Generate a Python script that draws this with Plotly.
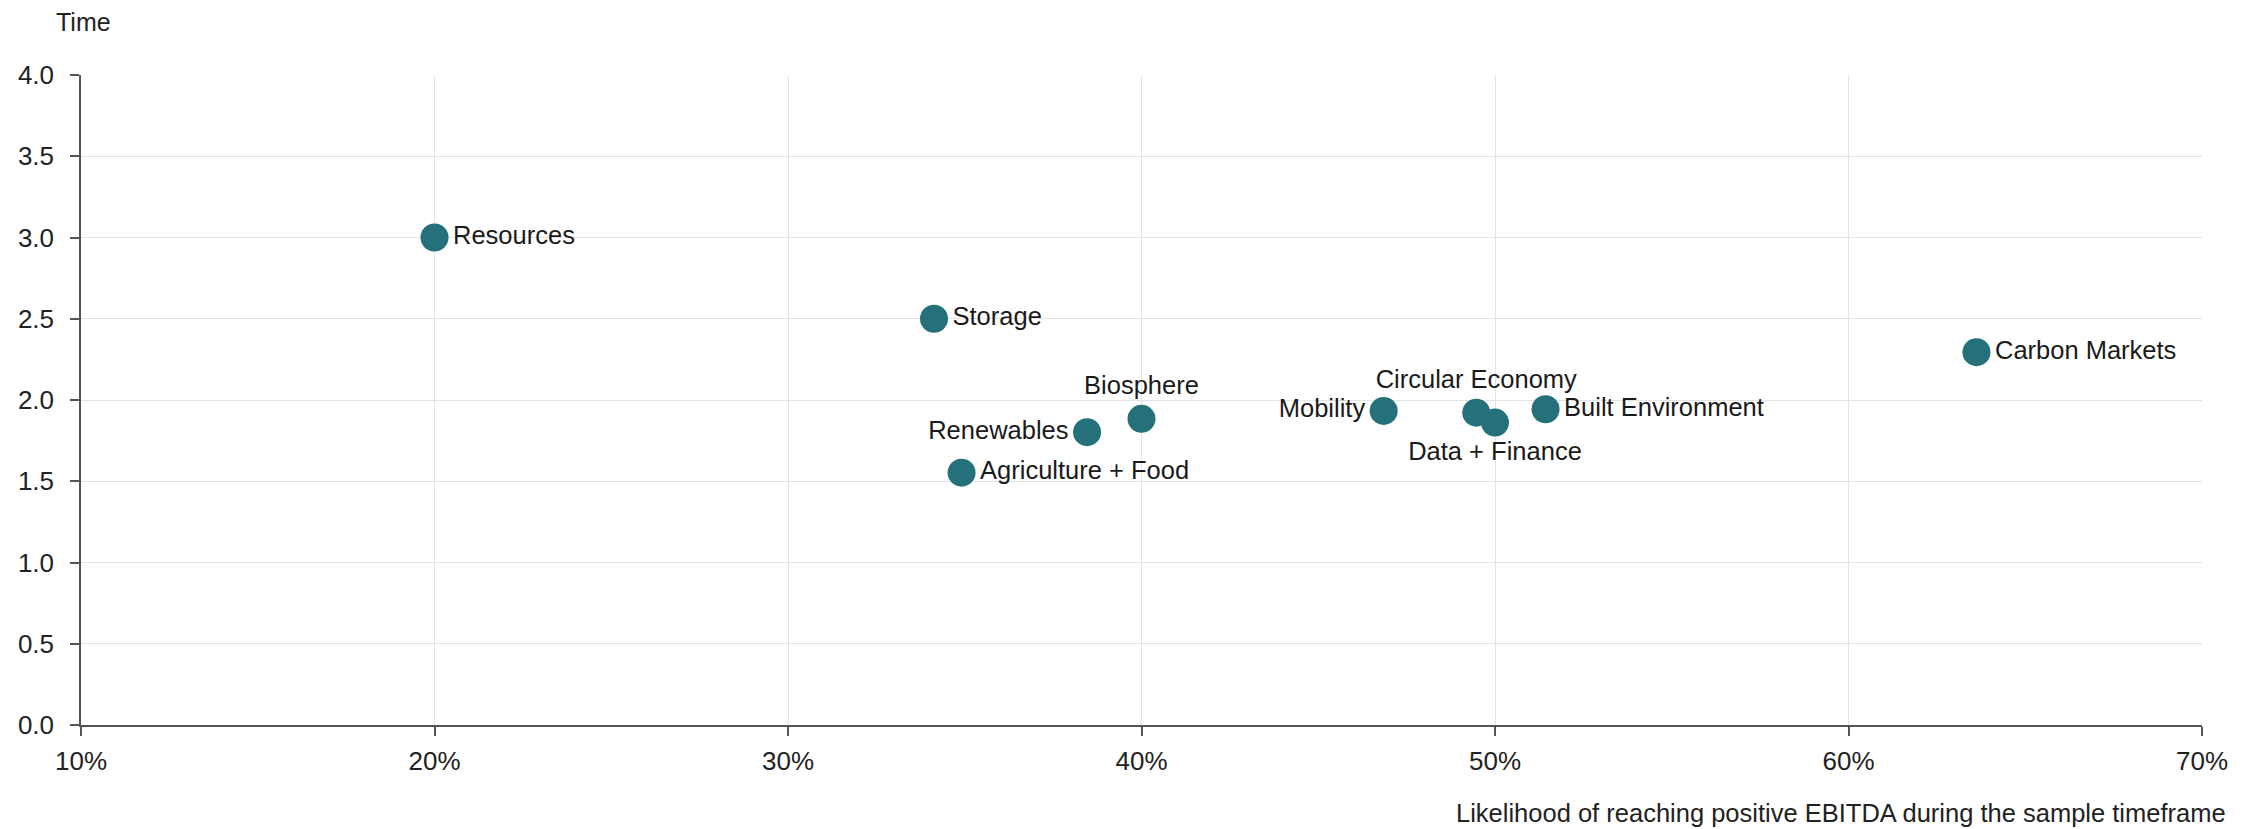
import plotly.graph_objects as go

sectors = ["Resources", "Storage", "Carbon Markets", "Biosphere", "Renewables",
           "Agriculture + Food", "Mobility", "Circular Economy", "Data + Finance",
           "Built Environment"]
likelihood = [20.0, 34.13, 63.62, 40.0, 38.46, 34.91, 46.85, 49.47, 50.0, 51.43]
time_years = [3.0, 2.50, 2.294, 1.884, 1.802, 1.553, 1.933, 1.922, 1.861, 1.943]
label_pos = ["middle right", "middle right", "middle right", "top center", "middle left",
             "middle right", "middle left", "top center", "bottom center", "middle right"]

x_ticks = [10, 20, 30, 40, 50, 60, 70]
x_tick_text = ["10%", "20%", "30%", "40%", "50%", "60%", "70%"]
y_ticks = [0.0, 0.5, 1.0, 1.5, 2.0, 2.5, 3.0, 3.5, 4.0]
y_tick_text = ["0.0", "0.5", "1.0", "1.5", "2.0", "2.5", "3.0", "3.5", "4.0"]

FONT = "Liberation Sans, Arial, sans-serif"
TEAL = "#24717B"

fig = go.Figure()
fig.add_trace(go.Scatter(
    x=likelihood, y=time_years, mode="markers+text",
    text=sectors, textposition=label_pos,
    marker=dict(size=28, color=TEAL, line=dict(width=0)),
    textfont=dict(family=FONT, size=25.5, color="#1a1a1a"),
    cliponaxis=False, hoverinfo="skip",
))

fig.update_layout(
    width=2252, height=829,
    margin=dict(l=81, r=50, t=75, b=104, autoexpand=False),
    paper_bgcolor="white", plot_bgcolor="white",
    showlegend=False,
    font=dict(family=FONT, size=25, color="#222222"),
    xaxis=dict(
        range=[10, 70], tickvals=x_ticks, ticktext=x_tick_text,
        showgrid=True, gridcolor="#e3e3e3", gridwidth=1,
        showline=True, linecolor="#555555", linewidth=1.5,
        ticks="outside", ticklen=9, tickcolor="#555555", tickwidth=1.5,
        tickfont=dict(family=FONT, size=26, color="#222222"),
        ticklabelstandoff=3,
        zeroline=False, fixedrange=True,
    ),
    yaxis=dict(
        range=[0, 4], tickvals=y_ticks, ticktext=y_tick_text,
        showgrid=True, gridcolor="#e3e3e3", gridwidth=1,
        showline=True, linecolor="#555555", linewidth=1.5,
        ticks="outside", ticklen=9, tickcolor="#555555", tickwidth=1.5,
        tickfont=dict(family=FONT, size=26, color="#222222"),
        ticklabelstandoff=11,
        zeroline=False, fixedrange=True,
    ),
    annotations=[
        dict(text="Time", xref="paper", yref="paper", x=-27/2121, y=1 + 53/650.6,
             xanchor="left", yanchor="middle", showarrow=False,
             font=dict(family=FONT, size=25, color="#222222")),
        dict(text="Likelihood of reaching positive EBITDA during the sample timeframe",
             xref="paper", yref="paper", x=1 + 26/2121, y=-(813 - 725.3) / 650.6,
             xanchor="right", yanchor="middle", showarrow=False,
             font=dict(family=FONT, size=25.5, color="#222222")),
    ],
)

fig.write_html("out.html")
